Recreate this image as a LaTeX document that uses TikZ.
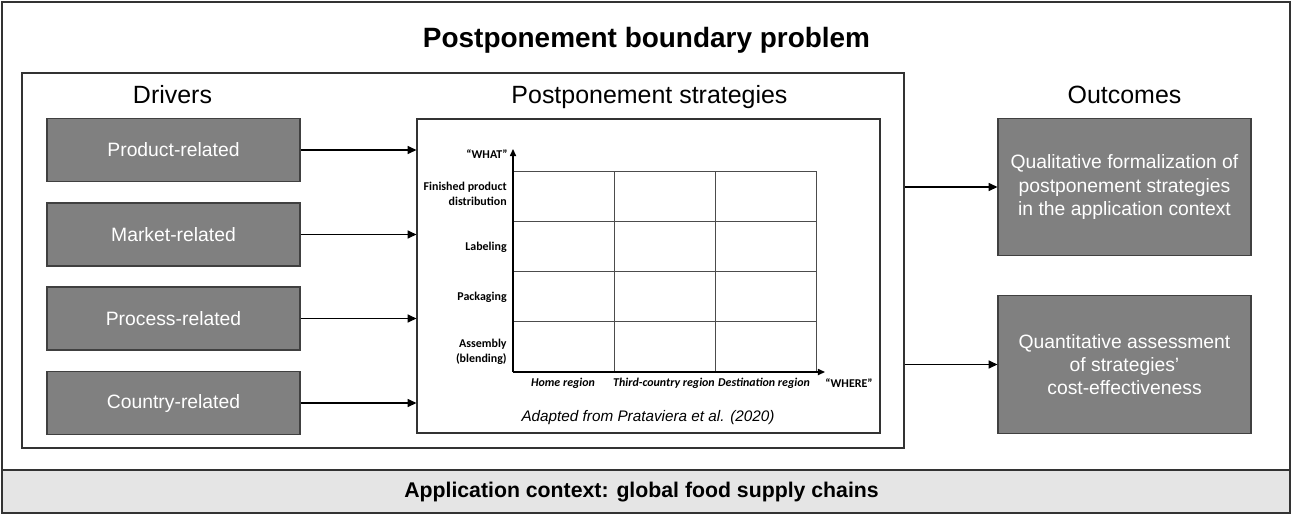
\documentclass[tikz,border=0pt]{standalone}
\usepackage{fontspec}
\setmainfont{Liberation Sans}
\newfontfamily\calibri{Carlito}
\usetikzlibrary{arrows.meta, positioning, calc}

\begin{document}
\begin{tikzpicture}[
    frame/.style = {draw=black!80, line width=0.8pt},
    driver/.style = {draw=black!75, line width=0.6pt, fill=black!50, text=white, align=center,
        minimum width=5.06cm, minimum height=1.26cm, inner sep=0pt,
        font=\fontsize{11}{13.3}\selectfont},
    outcome/.style = {driver, minimum height=2.75cm},
    heading/.style = {anchor=base, font=\fontsize{14.2}{17}\selectfont},
    rowlabel/.style = {anchor=east, align=right, inner sep=0pt,
        font=\calibri\bfseries\fontsize{6.8}{8.2}\selectfont},
    collabel/.style = {inner sep=0pt, font=\calibri\bfseries\itshape\fontsize{6.8}{8.2}\selectfont},
    gridline/.style = {draw=black!70, line width=0.5pt},
    axis/.style = {line width=0.7pt, -{Triangle[length=4pt,width=3.5pt]}},
    link/.style = {line width=0.8pt, -{Triangle[length=5pt,width=4.5pt]}}
]
    \useasboundingbox (0,0) rectangle (25.84,-10.30);

    % outer frame and application band
    \draw[frame] (0.04,-0.04) rectangle (25.80,-10.26);
    \filldraw[frame, fill=black!10] (0.04,-9.40) rectangle (25.80,-10.26);
    \node[anchor=base, font=\bfseries\fontsize{15.9}{18}\selectfont] (title) at (12.93,-0.94) {Postponement boundary problem};
    \node[anchor=base, font=\bfseries\fontsize{12.1}{15}\selectfont] (context) at (12.83,-9.94) {Application context: global food supply chains};

    % boundary of the problem
    \node[frame, minimum width=17.64cm, minimum height=7.50cm, inner sep=0pt] (scope) at (9.26,-5.21) {};

    \node[heading] (hdrivers) at (3.45,-2.07) {Drivers};
    \node[heading] (hstrat) at (12.99,-2.07) {Postponement strategies};
    \node[heading] (houtcomes) at (22.49,-2.07) {Outcomes};

    % drivers
    \node[driver] (product) at (3.47,-3.00) {Product-related};
    \node[driver] (market) at (3.47,-4.69) {Market-related};
    \node[driver] (process) at (3.47,-6.37) {Process-related};
    \node[driver] (country) at (3.47,-8.06) {Country-related};

    % strategies matrix
    \node[draw=black!80, line width=0.6pt, minimum width=9.26cm, minimum height=6.28cm, inner sep=0pt] (strat) at (12.97,-5.52) {};
    \coordinate (O) at (10.26,-7.44);
    \foreach \i in {1,2,3}
        \draw[gridline] ($(O)+(2.02*\i,0)$) -- ++(0,4.02);
    \foreach \j in {1,...,4}
        \draw[gridline] ($(O)+(0,1.005*\j)$) -- ++(6.06,0);
    \draw[axis] (O) -- (10.26,-2.98);
    \draw[axis] (O) -- (16.50,-7.44);

    \node[rowlabel] (what) at (10.16,-3.08) {“WHAT”};
    \node[rowlabel] (distr) at (10.14,-3.88) {Finished product\\distribution};
    \node[rowlabel] (label) at (10.14,-4.94) {Labeling};
    \node[rowlabel] (pack) at (10.14,-5.94) {Packaging};
    \node[rowlabel] (assem) at (10.14,-7.04) {Assembly\\(blending)};

    \node[collabel] (home) at (11.26,-7.66) {Home region};
    \node[collabel] (third) at (13.28,-7.66) {Third-country region};
    \node[collabel] (dest) at (15.28,-7.66) {Destination region};
    \node[collabel, font=\calibri\bfseries\fontsize{6.8}{8.2}\selectfont] (where) at (16.98,-7.66) {“WHERE”};

    \node[font=\itshape\fontsize{8.7}{10}\selectfont] (source) at (12.96,-8.36) {Adapted from Prataviera et al. (2020)};

    % outcomes
    \node[outcome] (qual) at (22.49,-3.74) {Qualitative formalization of\\postponement strategies\\in the application context};
    \node[outcome] (quant) at (22.49,-7.29) {Quantitative assessment\\of strategies’\\cost-effectiveness};

    % arrows
    \foreach \d in {product, market, process, country}
        \draw[link] (\d.east) -- (\d.east -| strat.west);
    \draw[link] (scope.east |- qual.west) -- (qual.west);
    \draw[link] (scope.east |- quant.west) -- (quant.west);
\end{tikzpicture}
\end{document}
